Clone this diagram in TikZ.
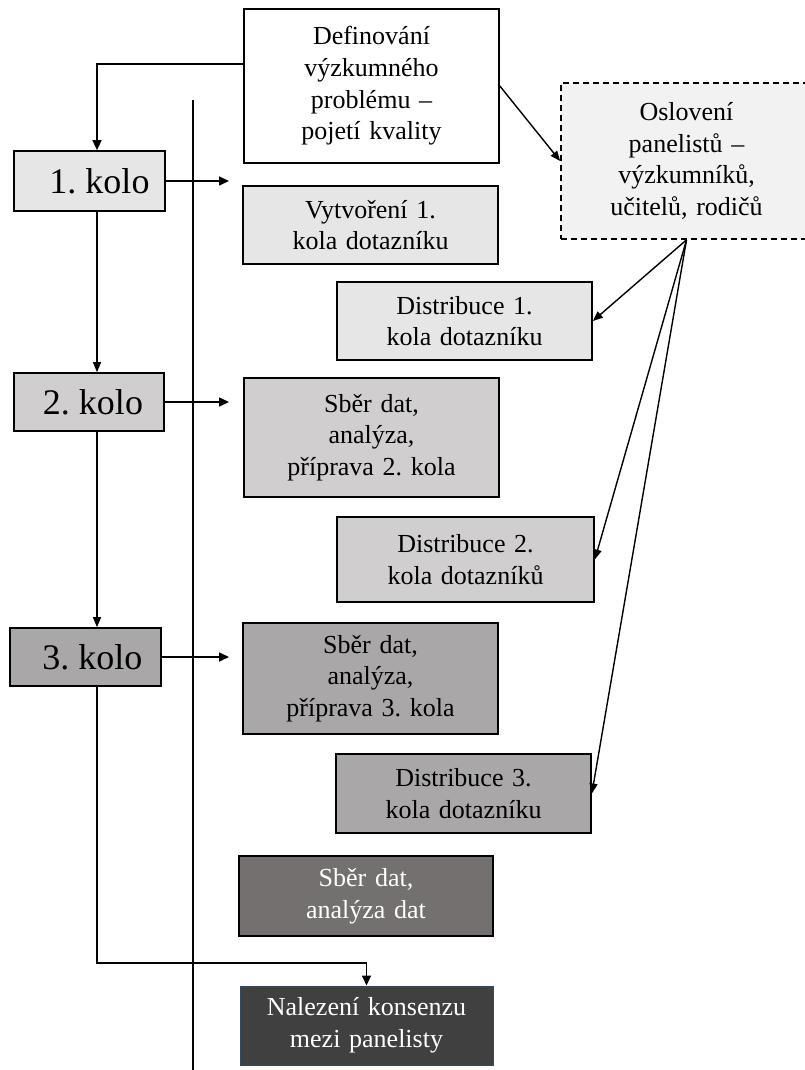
\documentclass[tikz,border=0pt]{standalone}
\usepackage{fontspec}
\setmainfont{Liberation Serif}
\usetikzlibrary{arrows.meta,calc}
\definecolor{gA}{HTML}{F2F2F2}
\definecolor{gB}{HTML}{E7E6E6}
\definecolor{gC}{HTML}{D0CECE}
\definecolor{gD}{HTML}{A9A7A7}
\definecolor{gE}{HTML}{747070}
\definecolor{gF}{HTML}{404040}
\definecolor{navyline}{HTML}{2F4A6B}
\begin{document}
\begin{tikzpicture}[x=1pt,y=-1pt,
  frame/.style={draw=black, line width=1.7pt, inner sep=0pt},
  box/.style={frame, align=center, text width=240pt,
    font=\fontsize{26}{31.7}\selectfont\frenchspacing},
  sz/.style 2 args={minimum width=#1, minimum height=#2},
  kolo/.style={frame, font=\fontsize{36}{40}\selectfont\frenchspacing},
  arr/.style={line width=1.6pt, -{Triangle[length=10pt,width=9pt]}},
  thin arr/.style={line width=1.4pt, -{Triangle[length=10pt,width=8pt]}}]
\useasboundingbox (0,0) rectangle (805,1070);

% helper coordinates
\coordinate (ax) at (97,0);
\coordinate (a1) at (0,64);
\coordinate (tipx) at (229,0);
\coordinate (hy) at (0,963);
\coordinate (vtop) at (193,100);
\coordinate (vbot) at (193,1076);

% nodes
\node[box, fill=white, sz={255}{154}] (def) at (371.5,86) {Definování\\výzkumného\\problému –\\pojetí kvality};
\node[box, fill=gA, dash pattern=on 6pt off 4pt, sz={251}{156}] (osl) at (686.5,161) {Oslovení\\panelistů –\\výzkumníků,\\učitelů, rodičů};

\node[kolo, fill=gB, sz={151}{60}] (k1) at (89.5,181) {\hspace{20pt}1. kolo};
\node[box, fill=gB, sz={255}{78}] (vyt) at (370.5,225) {Vytvoření 1.\\kola dotazníku};
\node[box, fill=gB, sz={255}{78}] (d1) at (464.5,321) {Distribuce 1.\\kola dotazníku};

\node[kolo, fill=gC, sz={150}{58}] (k2) at (89,402) {\hspace{8pt}2. kolo};
\node[box, fill=gC, sz={255}{119}] (s2) at (371.5,437.5) {Sběr dat,\\analýza,\\příprava 2. kola};
\node[box, fill=gC, sz={257}{85}] (d2) at (465.5,559.5) {Distribuce 2.\\kola dotazníků};

\node[kolo, fill=gD, sz={151}{58}] (k3) at (85.5,657) {\hspace{14pt}3. kolo};
\node[box, fill=gD, sz={255}{111}] (s3) at (370.5,678.5) {Sběr dat,\\analýza,\\příprava 3. kola};
\node[box, fill=gD, sz={255}{79}] (d3) at (463.5,793.5) {Distribuce 3.\\kola dotazníku};

\node[box, fill=gE, text=white, sz={254}{80}] (sf) at (366,896) {Sběr dat,\\analýza dat};
\node[box, draw=navyline, line width=1pt, fill=gF, text=white, sz={253}{79}] (nal) at (366.5,1025.5) {Nalezení konsenzu\\mezi panelisty};

% thick vertical line
\draw[line width=2.6pt] (vtop) -- (vbot);

% connectors
\draw[arr] (def.west |- a1) -| (k1.north -| ax);
\draw[thin arr] (def.east) -- (osl.west);
\draw[arr] (k1.east) -- (k1.east -| tipx);
\draw[arr] (k2.east) -- (k2.east -| tipx);
\draw[arr] (k3.east) -- (k3.east -| tipx);
\draw[thin arr] (k1.south -| ax) -- (k2.north -| ax);
\draw[thin arr] (k2.south -| ax) -- (k3.north -| ax);
\draw[arr] (k3.south -| ax) |- (nal.north |- hy) -- (nal.north);
\draw[thin arr] (osl.south) -- (d1.east);
\draw[thin arr] (osl.south) -- (d2.east);
\draw[thin arr] (osl.south) -- (d3.east);
\end{tikzpicture}
\end{document}
